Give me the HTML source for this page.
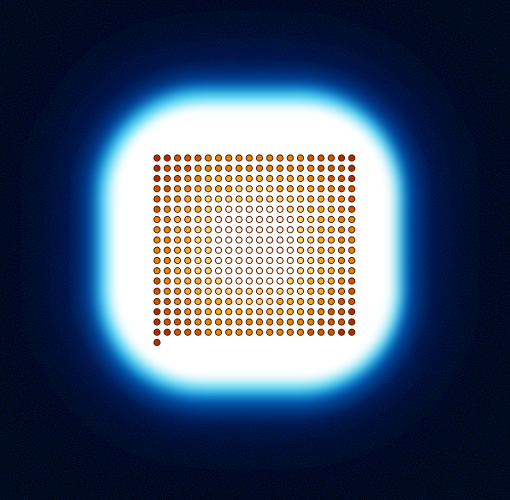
<!DOCTYPE html>
<html><head><meta charset="utf-8"><style>
html,body{margin:0;padding:0;background:#000;width:510px;height:500px;overflow:hidden}
svg{display:block}
</style></head><body>
<svg id="chart" width="510" height="500" viewBox="0 0 510 500">
<defs>
<filter id="b1" x="-50%" y="-50%" width="200%" height="200%"><feGaussianBlur stdDeviation="40"/></filter>
<filter id="b2" x="-50%" y="-50%" width="200%" height="200%"><feGaussianBlur stdDeviation="12"/></filter>
<filter id="b3" x="-50%" y="-50%" width="200%" height="200%"><feGaussianBlur stdDeviation="6"/></filter>
<filter id="noise"><feTurbulence type="fractalNoise" baseFrequency="0.9" numOctaves="1" seed="3"/><feColorMatrix values="0 0 0 0 0  0 0 0 0 0.05  0 0 0 0 0.25  0 0 0 1.2 -0.5"/></filter>
</defs>
<rect width="510" height="500" fill="#000514"/>
<rect width="510" height="500" filter="url(#noise)" opacity="0.8"/>
<rect x="70" y="60" width="360" height="360" rx="120" fill="#002890" opacity="0.8" filter="url(#b1)"/>
<rect x="88" y="80" width="325" height="328" rx="115" fill="#0068c8" filter="url(#b2)"/>
<rect x="98" y="90" width="305" height="305" rx="105" fill="#40d0f0" filter="url(#b3)"/>
<rect x="108" y="102" width="288" height="282" rx="95" fill="#ffffff" filter="url(#b3)"/>
<g id="dots"></g>
</svg>
<script>
const colIndex=[0,1,2,3,4,5,6,7,8,9,10,11,12,13,14,15,16,17,18,19];
const rowIndex=[0,1,2,3,4,5,6,7,8,9,10,11,12,13,14,15,16,17];
const colLevel=[0.35,0.45,0.55,0.65,0.75,0.85,0.92,0.97,1,1,1,1,0.97,0.92,0.85,0.75,0.65,0.55,0.45,0.35];
const rowLevel=[0.4,0.5,0.6,0.72,0.83,0.92,0.97,1,1,1,1,0.97,0.92,0.83,0.72,0.6,0.5,0.4];
const extraPoints=[[0,18]];
const x=i=>157+i*10.25, y=j=>158+j*10.25;
function color(v){
  if(v>0.85) return '#fffbe8';
  if(v>0.7) return '#f8d870';
  if(v>0.5) return '#f0b020';
  if(v>0.33) return '#e08a08';
  if(v>0.22) return '#c85a00';
  return '#a83000';
}
const g=document.getElementById('dots');
const ns='http://www.w3.org/2000/svg';
function dot(cx,cy,v){
  const c=document.createElementNS(ns,'circle');
  
  
  c.setAttribute('cx',cx);c.setAttribute('cy',cy);c.setAttribute('r',3.1);
  c.setAttribute('fill',color(v));c.setAttribute('stroke','#5a1800');c.setAttribute('stroke-width',1);
  g.appendChild(c);
}
rowIndex.forEach((r,j)=>colIndex.forEach((c,i)=>dot(x(c),y(r),colLevel[i]*rowLevel[j])));
extraPoints.forEach(p=>dot(x(p[0]),y(p[1]),0.1));
</script>
</body></html>
